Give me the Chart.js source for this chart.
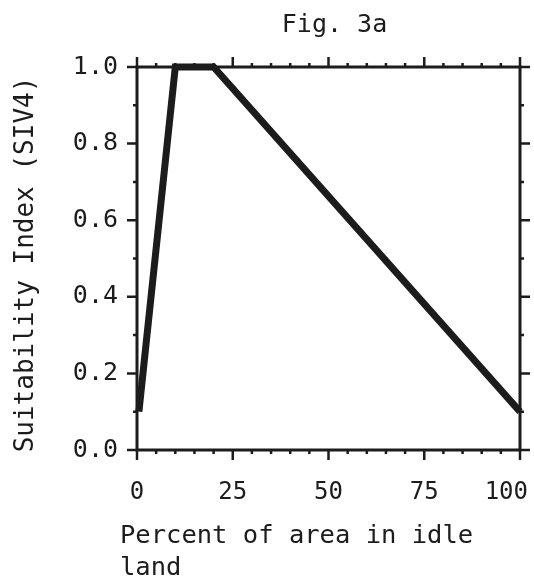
<!DOCTYPE html>
<html>
<head>
<meta charset="utf-8">
<script src="https://cdn.jsdelivr.net/npm/chart.js@4/dist/chart.umd.min.js"></script>
<style>
  html, body { margin: 0; padding: 0; background: #ffffff; }
  #wrap { width: 534px; height: 582px; }
</style>
</head>
<body>
<div id="wrap"><canvas id="c" width="534" height="582"></canvas></div>
<script>
// ---- data ----
const xValues = [0.5, 10, 20, 100];
const yValues = [0.1, 1.0, 1.0, 0.1];
const xTicks = [0, 25, 50, 75, 100];
const xTickLabels = ['0', '25', '50', '75', '100'];
const xMinorTicks = [5, 10, 15, 20, 30, 35, 40, 45, 55, 60, 65, 70, 80, 85, 90, 95];
const yTicks = [0, 0.2, 0.4, 0.6, 0.8, 1.0];
const yTickLabels = ['0.0', '0.2', '0.4', '0.6', '0.8', '1.0'];
const yMinorTicks = [0.1, 0.3, 0.5, 0.7, 0.9];
const chartTitle = 'Fig. 3a';
const xTitleLines = ['Percent of area in idle', 'land'];
const yTitle = 'Suitability Index (SIV4)';

const INK = '#1c1c1c';
const FONT = '"DejaVu Sans Mono", "Liberation Mono", monospace';

const framePlugin = {
  id: 'frame',
  afterDatasetsDraw(chart) {
    const ctx = chart.ctx;
    const a = chart.chartArea;
    const xs = chart.scales.x, ys = chart.scales.y;
    ctx.save();
    ctx.strokeStyle = INK;
    ctx.lineWidth = 3;
    ctx.lineCap = 'square';
    ctx.strokeRect(a.left, a.top, a.right - a.left, a.bottom - a.top);
    const major = 10, minor = 4;
    ctx.lineWidth = 2.5;
    ctx.lineCap = 'butt';
    ctx.beginPath();
    xTicks.forEach(v => {
      const p = xs.getPixelForValue(v);
      ctx.moveTo(p, a.bottom); ctx.lineTo(p, a.bottom + major);
      ctx.moveTo(p, a.top); ctx.lineTo(p, a.top - major);
    });
    xMinorTicks.forEach(v => {
      const p = xs.getPixelForValue(v);
      ctx.moveTo(p, a.bottom); ctx.lineTo(p, a.bottom + minor);
      ctx.moveTo(p, a.top); ctx.lineTo(p, a.top - minor);
    });
    yTicks.forEach(v => {
      const p = ys.getPixelForValue(v);
      ctx.moveTo(a.left, p); ctx.lineTo(a.left - major, p);
      ctx.moveTo(a.right, p); ctx.lineTo(a.right + major, p);
    });
    yMinorTicks.forEach(v => {
      const p = ys.getPixelForValue(v);
      ctx.moveTo(a.left, p); ctx.lineTo(a.left - minor, p);
      ctx.moveTo(a.right, p); ctx.lineTo(a.right + minor, p);
    });
    ctx.stroke();

    // x tick labels
    ctx.fillStyle = INK;
    ctx.font = '24px ' + FONT;
    ctx.textAlign = 'center';
    ctx.textBaseline = 'alphabetic';
    xTicks.forEach((v, i) => {
      const txt = xTickLabels[i];
      const w = ctx.measureText(txt).width;
      let p = xs.getPixelForValue(v);
      p = Math.min(p, chart.width - 6 - w / 2);
      ctx.fillText(txt, p, a.bottom + 49);
    });

    // title
    ctx.font = '25px ' + FONT;
    ctx.textAlign = 'center';
    ctx.fillText(chartTitle, (a.left + a.right) / 2 + 6, 32);

    // x title
    ctx.font = '25.5px ' + FONT;
    ctx.textAlign = 'left';
    xTitleLines.forEach((ln, i) => {
      ctx.fillText(ln, a.left - 17, a.bottom + 93 + i * 32);
    });

    // y title
    ctx.save();
    ctx.translate(33, (a.top + a.bottom) / 2 + 6);
    ctx.rotate(-Math.PI / 2);
    ctx.font = '26px ' + FONT;
    ctx.textAlign = 'center';
    ctx.fillText(yTitle, 0, 0);
    ctx.restore();
    ctx.restore();
  }
};

new Chart(document.getElementById('c'), {
  type: 'line',
  data: {
    datasets: [{
      data: xValues.map((x, i) => ({ x: x, y: yValues[i] })),
      borderColor: INK,
      borderWidth: 7,
      pointRadius: 0,
      tension: 0,
      fill: false,
      clip: false,
      borderJoinStyle: 'miter',
      borderCapStyle: 'butt'
    }]
  },
  options: {
    responsive: false,
    animation: false,
    devicePixelRatio: 1,
    layout: { padding: { top: 67, right: 14, left: 0, bottom: 0 } },
    plugins: { legend: { display: false }, title: { display: false }, tooltip: { enabled: false } },
    scales: {
      x: {
        type: 'linear', min: 0, max: 100,
        ticks: { display: false },
        grid: { display: false, drawTicks: false, tickLength: 0 },
        border: { display: false },
        afterFit(s) { s.height = 132; s.paddingLeft = 0; s.paddingRight = 0; }
      },
      y: {
        type: 'linear', min: 0, max: 1,
        afterBuildTicks(s) { s.ticks = yTicks.map(v => ({ value: v })); },
        ticks: {
          callback: (v, i) => yTickLabels[i],
          font: { family: FONT, size: 25 },
          color: INK,
          padding: 19
        },
        grid: { display: false, drawTicks: false, tickLength: 0 },
        border: { display: false },
        afterFit(s) { s.width = 137; s.paddingTop = 0; s.paddingBottom = 0; }
      }
    }
  },
  plugins: [framePlugin]
});
</script>
</body>
</html>
